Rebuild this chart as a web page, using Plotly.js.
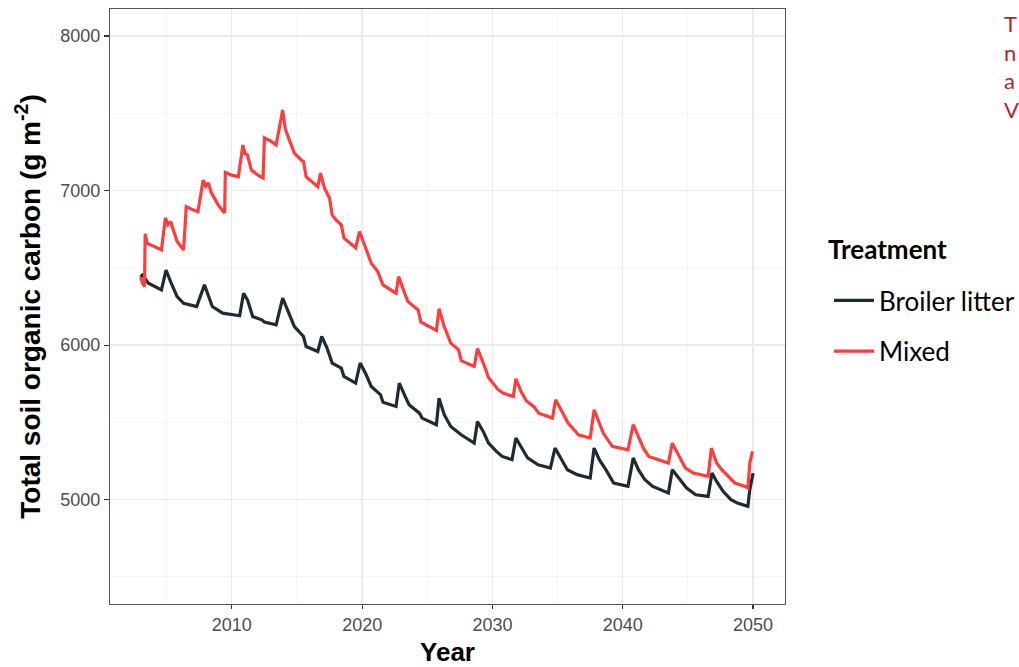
<!DOCTYPE html>
<html>
<head>
<meta charset="utf-8">
<script src="https://cdn.plot.ly/plotly-3.0.1.min.js"></script>
<style>
  html, body { margin: 0; padding: 0; background: #ffffff; overflow: hidden; }
  #chart { width: 1019px; height: 667px; }
</style>
</head>
<body>
<div id="chart"></div>
<script>
// Treatment names
const legendTitle = "Treatment";
const treatments = ["Broiler litter", "Mixed"];

// Broiler litter series (year, g m^-2)
const broilerYears = [
  2003.0, 2003.2, 2003.25, 2003.6, 2004.6, 2004.95, 2005.3, 2005.8, 2006.3, 2007.3,
  2007.9, 2008.1, 2008.5, 2009.3, 2010.4, 2010.6, 2010.9, 2011.2, 2011.6, 2012.3,
  2012.5, 2013.4, 2013.9, 2014.3, 2014.8, 2015.5, 2015.7, 2016.6, 2016.9, 2017.3,
  2017.7, 2018.4, 2018.6, 2019.5, 2019.85, 2020.3, 2020.7, 2021.4, 2021.6, 2022.6,
  2022.85, 2023.3, 2023.6, 2024.4, 2024.6, 2025.7, 2025.9, 2026.3, 2026.8, 2027.6,
  2028.6, 2028.85, 2029.3, 2029.7, 2030.3, 2030.75, 2031.5, 2031.8, 2032.3, 2032.7,
  2033.5, 2034.45, 2034.8, 2035.3, 2035.75, 2036.5, 2037.5, 2037.8, 2038.2, 2038.7,
  2039.3, 2040.4, 2040.8, 2041.2, 2041.7, 2042.3, 2043.5, 2043.8, 2044.3, 2044.9,
  2045.6, 2046.55, 2046.85, 2047.2, 2047.7, 2048.3, 2048.8, 2049.6, 2049.75, 2050.0
];
const broilerSOC = [
  6440, 6460, 6440, 6401, 6357, 6486, 6411, 6314, 6271, 6250,
  6390, 6347, 6250, 6207, 6196, 6190, 6336, 6293, 6185, 6164,
  6150, 6131, 6304, 6218, 6120, 6056, 5991, 5959, 6056, 5983,
  5884, 5851, 5797, 5754, 5884, 5810, 5732, 5680, 5630, 5603,
  5754, 5668, 5614, 5560, 5528, 5485, 5657, 5550, 5474, 5420,
  5366, 5506, 5440, 5366, 5312, 5280, 5259, 5399, 5323, 5270,
  5226, 5205, 5334, 5259, 5194, 5162, 5140, 5334, 5259, 5194,
  5108, 5086, 5270, 5194, 5129, 5086, 5043, 5194, 5140, 5075,
  5032, 5021, 5172, 5118, 5054, 5000, 4978, 4957, 5065, 5172
];

// Mixed series (year, g m^-2)
const mixedYears = [
  2003.0, 2003.15, 2003.3, 2003.35, 2003.5, 2004.0, 2004.6, 2004.9, 2005.1, 2005.3,
  2005.8, 2006.3, 2006.5, 2006.9, 2007.4, 2007.8, 2008.0, 2008.2, 2008.4, 2009.0,
  2009.45, 2009.5, 2010.0, 2010.5, 2010.85, 2011.0, 2011.2, 2011.5, 2012.0, 2012.4,
  2012.5, 2013.0, 2013.4, 2013.9, 2014.1, 2014.4, 2014.8, 2015.3, 2015.5, 2015.7,
  2016.6, 2016.8, 2017.1, 2017.5, 2017.7, 2018.0, 2018.4, 2018.6, 2019.5, 2019.8,
  2020.2, 2020.7, 2021.2, 2021.6, 2022.6, 2022.8, 2023.2, 2023.5, 2024.3, 2024.5,
  2025.7, 2025.9, 2026.3, 2026.8, 2027.4, 2027.6, 2028.6, 2028.85, 2029.3, 2029.7,
  2030.4, 2030.8, 2031.6, 2031.8, 2032.2, 2032.6, 2033.2, 2033.55, 2034.6, 2034.85,
  2035.2, 2035.8, 2036.4, 2036.6, 2037.5, 2037.8, 2038.2, 2038.5, 2039.2, 2040.4,
  2040.8, 2041.2, 2041.6, 2042.0, 2043.5, 2043.8, 2044.2, 2044.8, 2045.4, 2046.55,
  2046.8, 2047.2, 2047.6, 2048.1, 2048.6, 2049.4, 2049.6, 2049.75, 2049.95
];
const mixedSOC = [
  6440, 6400, 6380, 6720, 6660, 6640, 6616, 6823, 6780, 6800,
  6670, 6616, 6896, 6880, 6864, 7068, 7030, 7050, 6990, 6900,
  6855, 7118, 7100, 7090, 7295, 7240, 7230, 7133, 7100, 7081,
  7342, 7320, 7295, 7521, 7400, 7330, 7243, 7200, 7187, 7090,
  7025, 7112, 7017, 6950, 6842, 6810, 6778, 6694, 6629, 6735,
  6637, 6530, 6476, 6390, 6336, 6443, 6350, 6283, 6228, 6150,
  6095, 6235, 6120, 6013, 5970, 5900, 5862, 5978, 5884, 5790,
  5715, 5690, 5668, 5782, 5700, 5640, 5600, 5560, 5528, 5646,
  5592, 5496, 5440, 5420, 5399, 5582, 5496, 5431, 5345, 5323,
  5485, 5410, 5330, 5280, 5237, 5366, 5302, 5205, 5173, 5151,
  5334, 5237, 5194, 5151, 5108, 5086, 5075, 5237, 5312
];

// Axis ticks
const xTickVals = [2010, 2020, 2030, 2040, 2050];
const xTickText = ["2010", "2020", "2030", "2040", "2050"];
const yTickVals = [5000, 6000, 7000, 8000];
const yTickText = ["5000", "6000", "7000", "8000"];

// Cut-off side note letters (only the first letters are visible)
const sideNoteLines = ["T", "n", "a", "V"];

const seriesColors = ["#1e2b33", "#ff3d3d"];

const traces = [
  {
    x: broilerYears, y: broilerSOC, name: treatments[0], type: "scatter", mode: "lines",
    line: { color: seriesColors[0], width: 3.2 }, legendgroup: "a"
  },
  {
    x: mixedYears, y: mixedSOC, name: treatments[1], type: "scatter", mode: "lines",
    line: { color: seriesColors[1], width: 3.2 }, legendgroup: "b"
  }
];

const tickFont = { family: "Liberation Sans, Arial, sans-serif", size: 18, color: "#4d4d4d" };
const xTitleFont = { family: "Liberation Sans, Arial, sans-serif", size: 26, color: "#000000" };
const yTitleFont = { family: "Liberation Sans, Arial, sans-serif", size: 28, color: "#000000" };
const legendFont = { family: "Lato, Open Sans, sans-serif", size: 26, color: "#000000" };

const layout = {
  width: 1019, height: 667,
  margin: { l: 110, r: 234, t: 9, b: 63, autoexpand: false },
  paper_bgcolor: "#ffffff", plot_bgcolor: "#ffffff",
  showlegend: true,
  xaxis: {
    range: [2000.65, 2052.45],
    tickmode: "array", tickvals: xTickVals, ticktext: xTickText,
    ticks: "outside", ticklen: 4, tickwidth: 1.2, tickcolor: "#333333",
    tickfont: tickFont,
    showgrid: true, gridcolor: "#ebebeb", gridwidth: 1.3,
    minor: { dtick: 5, tick0: 2005, showgrid: true, gridcolor: "#f3f3f3", gridwidth: 0.8, ticks: "" },
    showline: true, linecolor: "#555555", linewidth: 1.2, mirror: true,
    zeroline: false, automargin: false,
    title: { text: "<b>Year</b>", font: xTitleFont, standoff: 11 }
  },
  yaxis: {
    range: [4325, 8175],
    tickmode: "array", tickvals: yTickVals, ticktext: yTickText,
    ticks: "outside", ticklen: 5, tickwidth: 1.2, tickcolor: "#333333",
    tickfont: tickFont,
    showgrid: true, gridcolor: "#ebebeb", gridwidth: 1.3,
    minor: { dtick: 500, tick0: 4500, showgrid: true, gridcolor: "#f3f3f3", gridwidth: 0.8, ticks: "" },
    showline: true, linecolor: "#555555", linewidth: 1.2, mirror: true,
    zeroline: false, automargin: false,
    title: { text: "<b>Total soil organic carbon (g m<sup>-2</sup>)</b>", font: yTitleFont, standoff: 11 }
  },
  legend: {
    x: (829 - 110) / 675, xanchor: "left", y: (604 - 277) / 595, yanchor: "top",
    font: legendFont,
    traceorder: "grouped", tracegroupgap: 14,
    itemwidth: 40, bgcolor: "rgba(0,0,0,0)"
  },
  annotations: [
    {
      text: "<b>" + legendTitle + "</b>", xref: "paper", yref: "paper",
      x: (826 - 110) / 675, y: (604 - 249) / 595, xanchor: "left", yanchor: "middle",
      showarrow: false, font: legendFont
    },
    {
      text: sideNoteLines.join("<br>"), xref: "paper", yref: "paper",
      x: (1002 - 110) / 675, y: (604 - 8) / 595, xanchor: "left", yanchor: "top",
      align: "left", showarrow: false,
      font: { family: "Lato, Open Sans, sans-serif", size: 22, color: "#b3262a" }
    }
  ]
};

Plotly.newPlot("chart", traces, layout, { displayModeBar: false, staticPlot: true });
</script>
</body>
</html>
